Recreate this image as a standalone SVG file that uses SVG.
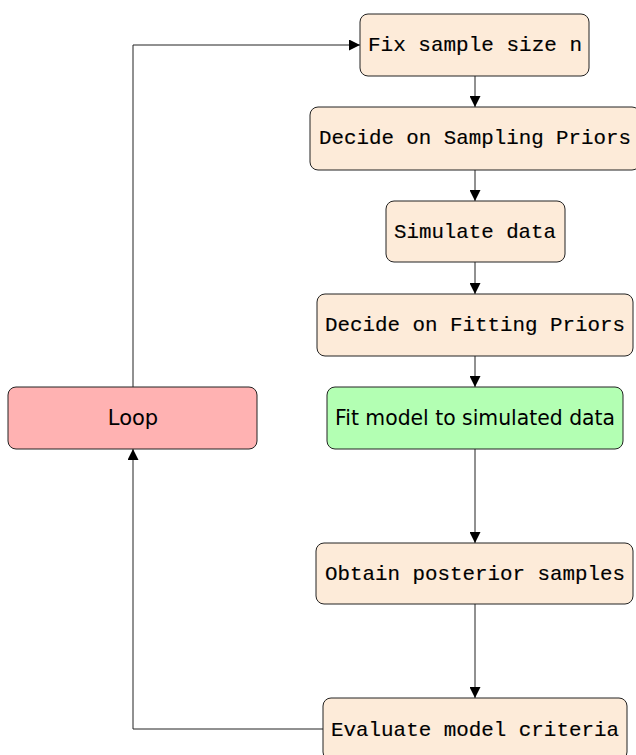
<svg xmlns="http://www.w3.org/2000/svg" width="636" height="755" viewBox="0 0 636 755">
  <defs>
    <marker id="arrow" viewBox="0 0 10 10" refX="10" refY="5" markerWidth="11" markerHeight="11" markerUnits="userSpaceOnUse" orient="auto">
      <path d="M0,0 L10,5 L0,10 z" fill="#000"/>
    </marker>
    <style>
      .box { stroke: #222; stroke-width: 1; }
      .step { fill: #FDEBD9; }
      .loop { fill: #FFB2B2; }
      .fit { fill: #B3FFB3; }
      .mono { font-family: "Liberation Mono", "DejaVu Sans Mono", monospace; font-size: 21px; fill: #000; stroke: #000; stroke-width: 0.15; text-anchor: middle; }
      .sans { font-family: "DejaVu Sans", "Liberation Sans", sans-serif; font-size: 21px; fill: #000; text-anchor: middle; }
      .edge { fill: none; stroke: #222; stroke-width: 1; marker-end: url(#arrow); }
    </style>
  </defs>
  <rect width="636" height="755" fill="#fff"/>

  <g id="connectors">
    <path class="edge" d="M133,387 V45 H360"/>
    <path class="edge" d="M475,76 V107"/>
    <path class="edge" d="M475,170 V201"/>
    <path class="edge" d="M475,262 V294"/>
    <path class="edge" d="M475,356 V387"/>
    <path class="edge" d="M475,449 V543"/>
    <path class="edge" d="M475,604 V698"/>
    <path class="edge" d="M323,729 H133 V449"/>
  </g>

  <g id="fix-sample-size">
    <rect class="box step" x="360" y="14" width="229" height="62" rx="8"/>
    <text class="mono" x="475" y="51" textLength="214" lengthAdjust="spacingAndGlyphs">Fix sample size n</text>
  </g>
  <g id="sampling-priors">
    <rect class="box step" x="310" y="107" width="330" height="63" rx="8"/>
    <text class="mono" x="475" y="144" textLength="312" lengthAdjust="spacingAndGlyphs">Decide on Sampling Priors</text>
  </g>
  <g id="simulate-data">
    <rect class="box step" x="386" y="201" width="179" height="61" rx="8"/>
    <text class="mono" x="475" y="238" textLength="162" lengthAdjust="spacingAndGlyphs">Simulate data</text>
  </g>
  <g id="fitting-priors">
    <rect class="box step" x="317" y="294" width="316" height="62" rx="8"/>
    <text class="mono" x="475" y="331" textLength="300" lengthAdjust="spacingAndGlyphs">Decide on Fitting Priors</text>
  </g>
  <g id="loop">
    <rect class="box loop" x="8" y="387" width="249" height="62" rx="8"/>
    <text class="sans" x="133" y="425">Loop</text>
  </g>
  <g id="fit-model">
    <rect class="box fit" x="327" y="387" width="296" height="62" rx="8"/>
    <text class="sans" x="475" y="425" textLength="280" lengthAdjust="spacingAndGlyphs">Fit model to simulated data</text>
  </g>
  <g id="posterior-samples">
    <rect class="box step" x="316" y="543" width="317" height="61" rx="8"/>
    <text class="mono" x="475" y="580" textLength="300" lengthAdjust="spacingAndGlyphs">Obtain posterior samples</text>
  </g>
  <g id="evaluate-criteria">
    <rect class="box step" x="323" y="698" width="304" height="62" rx="8"/>
    <text class="mono" x="475" y="736" textLength="288" lengthAdjust="spacingAndGlyphs">Evaluate model criteria</text>
  </g>
</svg>
